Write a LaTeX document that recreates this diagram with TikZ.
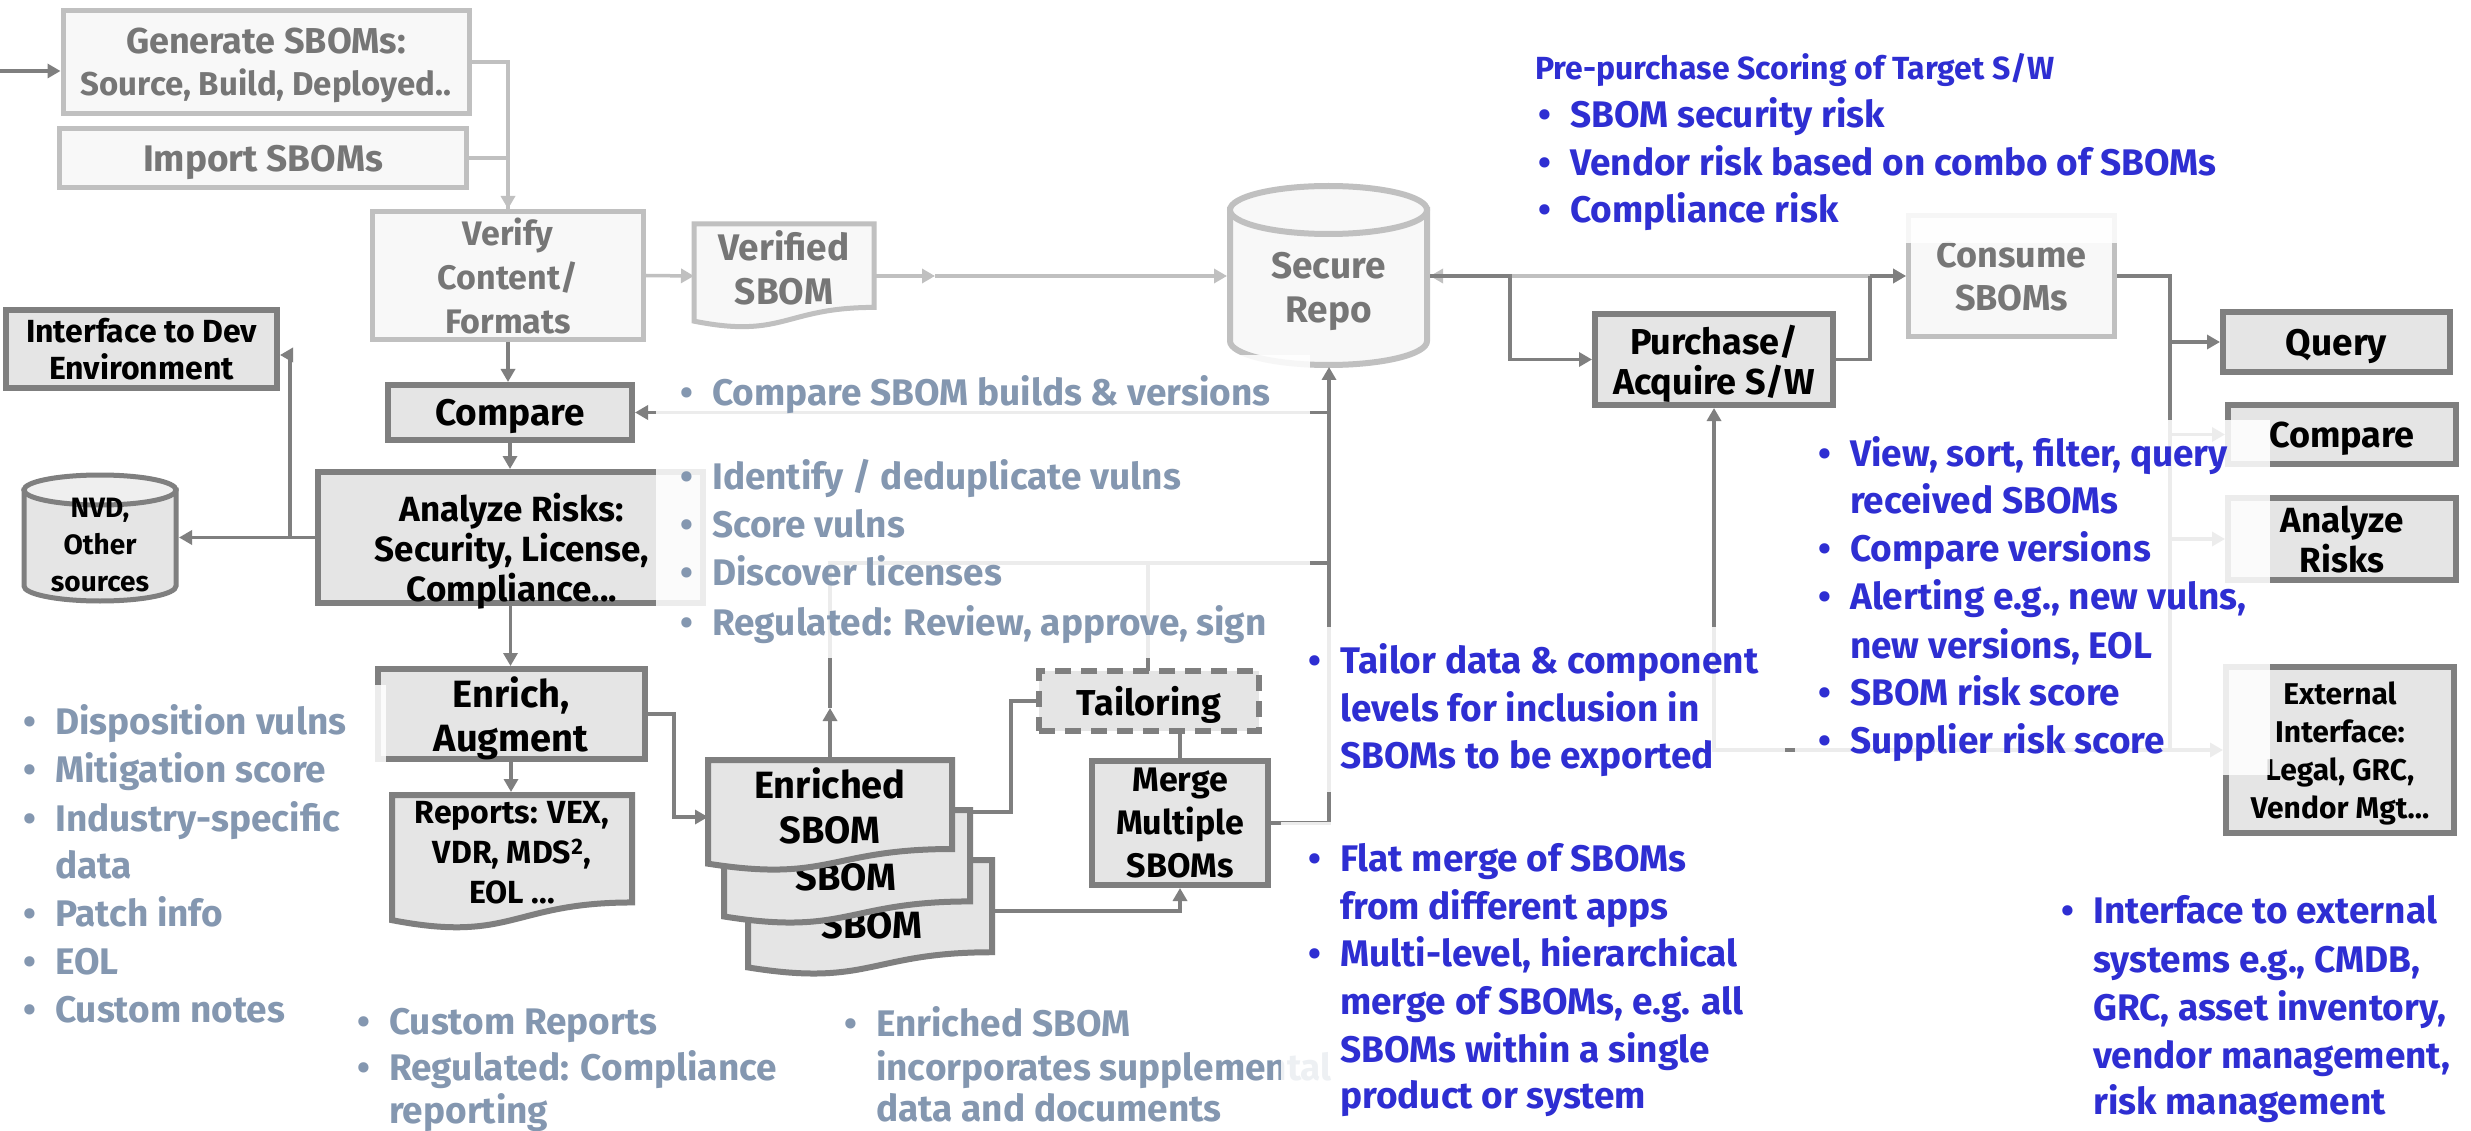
\documentclass[tikz,border=0pt]{standalone}
\usepackage{fontspec}
\setmainfont{Fira Sans}
\usetikzlibrary{arrows.meta}
\definecolor{dk}{HTML}{7F7F7F}
\definecolor{lt}{HTML}{C0C0C0}
\definecolor{dfill}{HTML}{E5E5E5}
\definecolor{dtop}{HTML}{EFEFEF}
\definecolor{lfill}{HTML}{F8F8F8}
\definecolor{ltxt}{HTML}{767676}
\definecolor{bblue}{HTML}{2E2ED2}
\definecolor{gblue}{HTML}{8497B0}
\newcommand\bul{\makebox[32pt][l]{•}}
\newcommand\fs[2]{\fontsize{#1}{#2}\selectfont}
\tikzset{
  x=1pt, y=-1pt,
  dbox/.style={draw=dk, line width=6pt, fill=dfill, text=black, align=center, inner sep=0pt, text depth=0pt, font=\bfseries\fs{36}{44}},
  lbox/.style={draw=lt, line width=5pt, fill=lfill, text=ltxt, align=center, inner sep=0pt, text depth=0pt, font=\bfseries\fs{36}{44}},
  dtxt/.style={text=black, align=center, inner sep=0pt, text depth=0pt, font=\bfseries\fs{36}{44}},
  ltx/.style={text=ltxt, align=center, inner sep=0pt, text depth=0pt, font=\bfseries\fs{36}{44}},
  dline/.style={draw=dk, line width=3.5pt},
  lline/.style={draw=lt, line width=3.5pt},
  tip/.style={-{Triangle[length=13pt,width=14pt]}},
  both/.style={{Triangle[length=13pt,width=14pt]}-{Triangle[length=13pt,width=14pt]}},
  ddoc/.style={draw=dk, line width=6pt, fill=dfill},
  ldoc/.style={draw=lt, line width=5pt, fill=lfill},
  veil/.style={fill=white, opacity=0.86},
  gtx/.style={anchor=mid west, inner sep=0pt, text=gblue, font=\bfseries\fs{37}{44}},
  btx/.style={anchor=mid west, inner sep=0pt, text=bblue, font=\bfseries\fs{37}{44}},
}
% document shape: style, x1, ytop, x2, h
\newcommand\docshape[5]{%
  \path[#1] (#2,#3) -- (#4,#3) -- (#4,{#3+0.802*#5})
    .. controls ({(#2+#4)/2},{#3+0.802*#5}) and ({(#2+#4)/2},{#3+1.107*#5}) .. (#2,{#3+0.934*#5}) -- cycle;}
% cylinder: style, top fill, x1, x2, ytop, ybot, ry
\newcommand\cyl[7]{%
  \path[#1] (#3,{#5+#7}) -- (#3,{#6-#7})
    .. controls (#3,{#6-0.448*#7}) and ({(#3+#4)/2-0.276*(#4-#3)},#6) .. ({(#3+#4)/2},#6)
    .. controls ({(#3+#4)/2+0.276*(#4-#3)},#6) and (#4,{#6-0.448*#7}) .. (#4,{#6-#7})
    -- (#4,{#5+#7}) -- cycle;
  \path[#1, fill=#2] ({(#3+#4)/2},{#5+#7}) ellipse [x radius={(#4-#3)/2}, y radius=#7];}
\begin{document}
\begin{tikzpicture}
\useasboundingbox[fill=white] (0,0) rectangle (2471,1131);

% ---------- top light chain ----------
\node[lbox, minimum width=406pt, minimum height=103pt, font=\bfseries\fs{34}{42}] (gen) at (266,62)
  {{\fs{36}{42}Generate SBOMs:}\\{\fs{33}{42}Source, Build, Deployed..}};
\node[lbox, minimum width=407pt, minimum height=59pt, font=\bfseries\fs{37}{44}] (imp) at (263,158) {Import SBOMs};
\node[lbox, minimum width=271pt, minimum height=128pt, font=\bfseries\fs{34}{44}] (ver) at (508,275.5) {Verify\\Content/\\Formats};
\docshape{ldoc}{694}{224}{874}{104}
\node[ltx, font=\bfseries\fs{37}{44}] (vsbom) at (784,267) {Verified\\SBOM};
\coordinate (vsW) at (694,276);
\coordinate (vsE) at (874,276);
\coordinate (mida) at (935,276);

\cyl{draw=lt, line width=6pt, fill=lfill}{lfill}{1230}{1427}{186}{365}{24}
\node[ltx, font=\bfseries\fs{37}{44}] (repo) at (1328.5,287) {Secure\\Repo};
\coordinate (repoW) at (1227,276);
\coordinate (repoE) at (1430,276);
\coordinate (repoS) at (1329,367);

\node[lbox, minimum width=206pt, minimum height=121pt, font=\bfseries\fs{36}{43}] (cons) at (2011.5,276) {Consume\\SBOMs};

\draw[lline] (gen.east) -| (ver.north);
\draw[lline] (imp.east) -- (imp.east -| ver.north);
\draw[lline, tip] (gen.east -| ver.north) -- (ver.north);
\draw[lline, tip] (ver.east) -- (vsW);
\draw[lline, tip] (mida) -- (repoW);
\draw[lline, tip] (vsE) -- (mida);
\draw[lline, both] (repoE) -- (cons.west);

% ---------- left dark chain ----------
\coordinate (inL) at (0,71);
\draw[dline, tip] (inL) -- (gen.west |- inL);

\node[dbox, minimum width=271pt, minimum height=78pt, font=\bfseries\fs{32}{37}] (idev) at (141.5,349) {Interface to Dev\\Environment};
\node[dbox, minimum width=244pt, minimum height=55pt, font=\bfseries\fs{37}{44}] (cmpL) at (510,412.5) {Compare};
\node[dbox, minimum width=385pt, minimum height=131pt] (ana) at (510.5,537.5) {};
\node[dtxt, font=\bfseries\fs{35}{40}] (anat) at (512,547) {Analyze Risks:\\Security, License,\\Compliance...};
\node[dbox, minimum width=267pt, minimum height=90pt, font=\bfseries\fs{38}{44}] (enr) at (511,714) {Enrich,\\Augment};
\docshape{ddoc}{392}{795}{632}{134}
\node[dtxt, font=\bfseries\fs{32}{40}] (rep) at (512,852) {Reports: VEX,\\VDR, MDS\textsuperscript{2},\\EOL ...};
\coordinate (repN) at (512,792);

\cyl{draw=dk, line width=5pt, fill=dfill}{dtop}{24}{176}{475}{601}{15}
\node[dtxt, font=\bfseries\fs{28}{37}] (nvd) at (100,545) {NVD,\\Other\\sources};
\coordinate (nvdE) at (179,537.5);

\draw[dline, tip] (ver.south) -- (ver.south |- cmpL.north);
\draw[dline, tip] (cmpL.south) -- (cmpL.south |- ana.north);
\draw[dline, tip] (ana.south) -- (ana.south |- enr.north);
\draw[dline, tip] (enr.south) -- (enr.south |- repN);
\draw[dline, tip] (ana.west) -- (nvdE);
\coordinate (jb) at (290,537.5);
\coordinate (jc) at (290,355);
\draw[dline, tip] (jb) -- (jc) -- (jc -| idev.east);

% ---------- enriched SBOM stack ----------
\docshape{ddoc}{748}{860}{992}{115}
\node[dtxt, font=\bfseries\fs{38}{45}] (ens3) at (872,925) {SBOM};
\docshape{ddoc}{724}{810}{970}{114}
\node[dtxt, font=\bfseries\fs{38}{45}] (ens2) at (846,877) {SBOM};
\docshape{ddoc}{708}{760}{952}{111}
\node[dtxt, font=\bfseries\fs{38}{45}] (ens1) at (830,806) {Enriched\\SBOM};
\coordinate (ensW) at (708,817);
\coordinate (ensN) at (830,760);
\coordinate (ens2E) at (970,812);
\coordinate (ens3E) at (992,911);
\coordinate (e1) at (674,714);
\draw[dline, tip] (enr.east) -- (e1) |- (ensW);

\coordinate (ma2) at (830,708);
\coordinate (j5a) at (830,563);
\coordinate (j5b) at (1329,563);
\coordinate (j5c) at (1148,563);
\draw[dline] (ma2) -- (j5a) -- (j5b);
\draw[dline, tip] (ensN) -- (ma2);

\node[dbox, dash pattern=on 16pt off 10pt, minimum width=220pt, minimum height=60pt] (tail) at (1149,701) {Tailoring};
\node[dbox, minimum width=176pt, minimum height=124pt, font=\bfseries\fs{34}{43}] (merge) at (1180,823) {Merge\\Multiple\\SBOMs};
\coordinate (t1) at (1011,812);
\coordinate (tN) at (1148,671);
\draw[dline] (ens2E) -- (t1) |- (tail.west);
\draw[dline] (tN) -- (j5c);
\draw[dline] (merge.north |- tail.south) -- (merge.north);
\draw[dline, tip] (ens3E) -| (merge.south);
\coordinate (j6) at (1329,823);
\coordinate (j7) at (1329,412.5);
\draw[dline, tip] (merge.east) -- (j6) -- (repoS);
\draw[dline, tip] (j7) -- (cmpL.east);

% ---------- purchase / consume ----------
\node[dbox, minimum width=238pt, minimum height=91pt, font=\bfseries\fs{36}{40}] (purch) at (1714,359.5) {Purchase/\\Acquire S/W};
\coordinate (k1) at (1510,276);
\coordinate (k2) at (1870,276);
\draw[dline, tip] (repoE) -- (k1) |- (purch.west);
\draw[dline] (purch.east) -| (k2);
\draw[dline, tip] (k2) -- (cons.west);

\node[dbox, minimum width=227pt, minimum height=60pt, font=\bfseries\fs{37}{44}] (query) at (2336.5,342) {Query};
\node[dbox, minimum width=228pt, minimum height=59pt] (cmpR) at (2342,434.5) {Compare};
\node[dbox, minimum width=228pt, minimum height=82pt, font=\bfseries\fs{35}{40}] (anaR) at (2342,539) {Analyze\\Risks};
\node[dbox, minimum width=228pt, minimum height=166pt, font=\bfseries\fs{30}{38}] (ext) at (2340,750) {External\\Interface:\\Legal, GRC,\\Vendor Mgt...};
\coordinate (r0) at (2170,276);
\coordinate (r1) at (2170,750);
\coordinate (r2) at (1714,750);
\draw[dline] (cons.east) -- (r0) -- (r1);
\draw[dline, tip] (r0 |- query.west) -- (query.west);
\draw[dline, tip] (r0 |- cmpR.west) -- (cmpR.west);
\draw[dline, tip] (r0 |- anaR.west) -- (anaR.west);
\draw[dline, tip] (r1) -- (ext.west);
\draw[dline, tip] (r1) -- (r2) -- (purch.south);

% ---------- text boxes (semi-opaque) and texts ----------
\fill[veil] (656,355) rectangle (1310,658);
\fill[veil] (1283,627) rectangle (1785,792);
\fill[veil] (1795,420) rectangle (2270,775);
\fill[veil] (1520,40) rectangle (2120,243);
\fill[veil] (0,685) rectangle (386,1040);

\node[gtx] (td1) at (680,403) {\bul Compare SBOM builds \& versions};
\node[gtx] (te1) at (680,487) {\bul Identify / deduplicate vulns};
\node[gtx] (te2) at (680,535) {\bul Score vulns};
\node[gtx] (te3) at (680,583) {\bul Discover licenses};
\node[gtx] (te4) at (680,633) {\bul Regulated: Review, approve, sign};

\node[gtx] (ta1) at (23,732) {\bul Disposition vulns};
\node[gtx] (ta2) at (23,780) {\bul Mitigation score};
\node[gtx] (ta3) at (23,829) {\bul Industry-specific};
\node[gtx] (ta4) at (55,876) {data};
\node[gtx] (ta5) at (23,924) {\bul Patch info};
\node[gtx] (ta6) at (23,972) {\bul EOL};
\node[gtx] (ta7) at (23,1020) {\bul Custom notes};

\node[gtx] (tb1) at (357,1032) {\bul Custom Reports};
\node[gtx] (tb2) at (357,1078) {\bul Regulated: Compliance};
\node[gtx] (tb3) at (389,1121) {reporting};

\node[gtx] (tc1) at (844,1034) {\bul Enriched SBOM};
\node[gtx] (tc2) at (876,1078) {incorporates supplemental};
\node[gtx] (tc3) at (876,1119) {data and documents};

\node[btx] (tf1) at (1308,671) {\bul Tailor data \& component};
\node[btx] (tf2) at (1340,719) {levels for inclusion in};
\node[btx] (tf3) at (1340,766) {SBOMs to be exported};

\node[btx, font=\bfseries\fs{32}{44}] (th0) at (1535,77) {Pre-purchase Scoring of Target S/W};
\node[btx] (th1) at (1538,125) {\bul SBOM security risk};
\node[btx] (th2) at (1538,173) {\bul Vendor risk based on combo of SBOMs};
\node[btx] (th3) at (1538,220) {\bul Compliance risk};

\node[btx] (ti1) at (1818,464) {\bul View, sort, filter, query};
\node[btx] (ti2) at (1850,511) {received SBOMs};
\node[btx] (ti3) at (1818,559) {\bul Compare versions};
\node[btx] (ti4) at (1818,607) {\bul Alerting e.g., new vulns,};
\node[btx] (ti5) at (1850,656) {new versions, EOL};
\node[btx] (ti6) at (1818,703) {\bul SBOM risk score};
\node[btx] (ti7) at (1818,751) {\bul Supplier risk score};

\node[btx] (tj1) at (2061,921) {\bul Interface to external};
\node[btx] (tj2) at (2093,970) {systems e.g., CMDB,};
\node[btx] (tj3) at (2093,1018) {GRC, asset inventory,};
\node[btx] (tj4) at (2093,1066) {vendor management,};
\node[btx] (tj5) at (2093,1112) {risk management};

\fill[veil] (1281,822) rectangle (1760,1131);
\node[btx] (tg1) at (1308,869) {\bul Flat merge of SBOMs};
\node[btx] (tg2) at (1340,917) {from different apps};
\node[btx] (tg3) at (1308,964) {\bul Multi-level, hierarchical};
\node[btx] (tg4) at (1340,1012) {merge of SBOMs, e.g. all};
\node[btx] (tg5) at (1340,1060) {SBOMs within a single};
\node[btx] (tg6) at (1340,1106) {product or system};
\end{tikzpicture}
\end{document}
